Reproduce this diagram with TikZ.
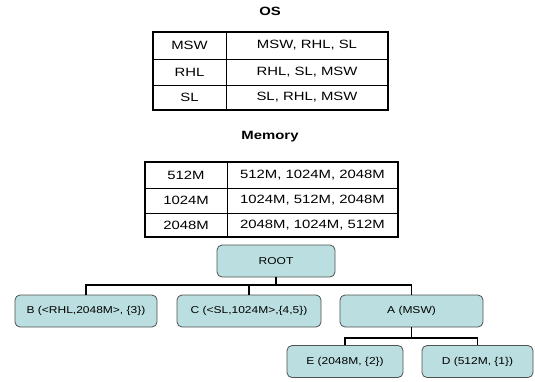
\documentclass[tikz,border=0pt]{standalone}
\usepackage{fontspec}
\setmainfont{Liberation Sans}
\newfontfamily\tabfont{Liberation Sans}[FakeStretch=1.24]
\newfontfamily\treefont{Liberation Sans}[FakeStretch=1.2]
\definecolor{boxfill}{HTML}{BBDFE0}
\definecolor{boxline}{HTML}{505050}
\begin{document}
\begin{tikzpicture}[x=1pt,y=-1pt,
  tnode/.style={draw=boxline,line width=0.8pt,fill=boxfill,rounded corners=5pt,font=\treefont\fontsize{10}{11}\selectfont,inner sep=0pt},
  title/.style={font=\tabfont\fontsize{12}{14}\selectfont\bfseries},
  cell/.style={font=\tabfont\fontsize{12}{14}\selectfont},
  conn/.style={line width=1.6pt,black}]
\useasboundingbox (0,0) rectangle (535,381);
% OS
\node[title] (ostitle) at (270,11) {OS};
\draw[line width=0.7pt] (153,59) -- (388,59) (153,85) -- (388,85) (226,32) -- (226,110);
\draw[line width=1.6pt] (153,32) rectangle (388,110);
\node[cell] (o1a) at (189.5,45.5) {MSW};
\node[cell] (o1b) at (307,45.5) {MSW, RHL, SL};
\node[cell] (o2a) at (189.5,72) {RHL};
\node[cell] (o2b) at (307,72) {RHL, SL, MSW};
\node[cell] (o3a) at (189.5,97.5) {SL};
\node[cell] (o3b) at (307,97.5) {SL, RHL, MSW};
% Memory
\node[title] (memtitle) at (270,137) {Memory};
\draw[line width=0.7pt] (145,188) -- (398,188) (145,213) -- (398,213) (227,162) -- (227,237);
\draw[line width=1.6pt] (145,162) rectangle (398,237);
\node[cell] (m1a) at (186,175) {512M};
\node[cell] (m1b) at (312.5,175) {512M, 1024M, 2048M};
\node[cell] (m2a) at (186,200.5) {1024M};
\node[cell] (m2b) at (312.5,200.5) {1024M, 512M, 2048M};
\node[cell] (m3a) at (186,225) {2048M};
\node[cell] (m3b) at (312.5,225) {2048M, 1024M, 512M};
% Tree
\node[tnode,minimum width=118pt,minimum height=32pt] (root) at (276,261) {ROOT};
\node[tnode,minimum width=142pt,minimum height=32pt] (b) at (86,311) {B (<RHL,2048M>, \{3\})};
\node[tnode,minimum width=144pt,minimum height=32pt] (c) at (249,311) {C (<SL,1024M>,\{4,5\})};
\node[tnode,minimum width=143pt,minimum height=32pt] (a) at (411.5,311) {A (MSW)};
\node[tnode,minimum width=116pt,minimum height=32pt] (e) at (345,361.5) {E (2048M, \{2\})};
\node[tnode,minimum width=111pt,minimum height=32pt] (d) at (477.5,361.5) {D (512M, \{1\})};
\coordinate (j1) at (276,285);
\coordinate (j2) at (411.5,338);
\draw[conn] (root.south) -- (j1);
\draw[conn] (b.north) |- (j1) -| (a.north);
\draw[conn] (c.north) -- (c.north |- j1);
\draw[conn] (a.south) -- (j2);
\draw[conn] (e.north) |- (j2) -| (d.north);
\end{tikzpicture}
\end{document}
